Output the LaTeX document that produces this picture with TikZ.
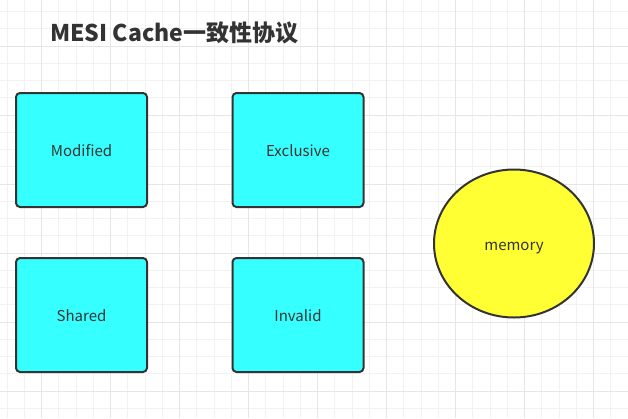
\documentclass[tikz,border=0pt]{standalone}
\usepackage{fontspec}
\setmainfont{Noto Sans CJK SC}
\usetikzlibrary{shapes.geometric}
\definecolor{gridminor}{HTML}{F2F2F2}
\definecolor{gridmajor}{HTML}{E6E6E6}
\definecolor{edgegray}{HTML}{333333}
\definecolor{txtgray}{HTML}{333333}
\definecolor{cyanfill}{HTML}{36FFFF}
\definecolor{yellowfill}{HTML}{FFFF33}
\tikzset{
  minorline/.style={draw=gridminor,line width=1pt},
  majorline/.style={draw=gridmajor,line width=1pt},
  statebox/.style={draw=edgegray,line width=2pt,fill=cyanfill,rounded corners=4pt,
    minimum width=131pt,minimum height=114pt,inner sep=0pt,text=txtgray,
    text height=13pt,text depth=1pt,
    font=\fontsize{15pt}{18pt}\selectfont},
  memnode/.style={ellipse,draw=edgegray,line width=2pt,fill=yellowfill,
    minimum width=160pt,minimum height=148pt,inner sep=0pt,text=txtgray,
    text height=14pt,text depth=1pt,
    font=\fontsize{15pt}{18pt}\selectfont},
  titletext/.style={anchor=base west,inner sep=0pt,text=txtgray,
    font=\fontsize{23pt}{27pt}\selectfont\bfseries}
}
\begin{document}
\begin{tikzpicture}[x=1pt,y=-1pt]
\useasboundingbox (0,0) rectangle (628,418);
\fill[white] (0,0) rectangle (628,418);
\foreach \i in {0,...,36}{
  \pgfmathsetmacro\gx{7.2+\i*17.25}
  \draw[minorline] (\gx,0) -- (\gx,418);
}
\foreach \j in {0,...,23}{
  \pgfmathsetmacro\gy{11.5+\j*17.25}
  \draw[minorline] (0,\gy) -- (628,\gy);
}
\foreach \i in {0,...,8}{
  \pgfmathsetmacro\gx{41.7+\i*69}
  \draw[majorline] (\gx,0) -- (\gx,418);
}
\foreach \j in {0,...,5}{
  \pgfmathsetmacro\gy{46+\j*69}
  \draw[majorline] (0,\gy) -- (628,\gy);
}
\node[titletext] (title) at (50,41) {MESI Cache一致性协议};
\node[statebox] (mod) at (81.5,150) {Modified};
\node[statebox] (exc) at (298,150) {Exclusive};
\node[statebox] (sha) at (81.5,315) {Shared};
\node[statebox] (inv) at (298,315) {Invalid};
\node[memnode] (mem) at (514,243.5) {memory};
\end{tikzpicture}
\end{document}
